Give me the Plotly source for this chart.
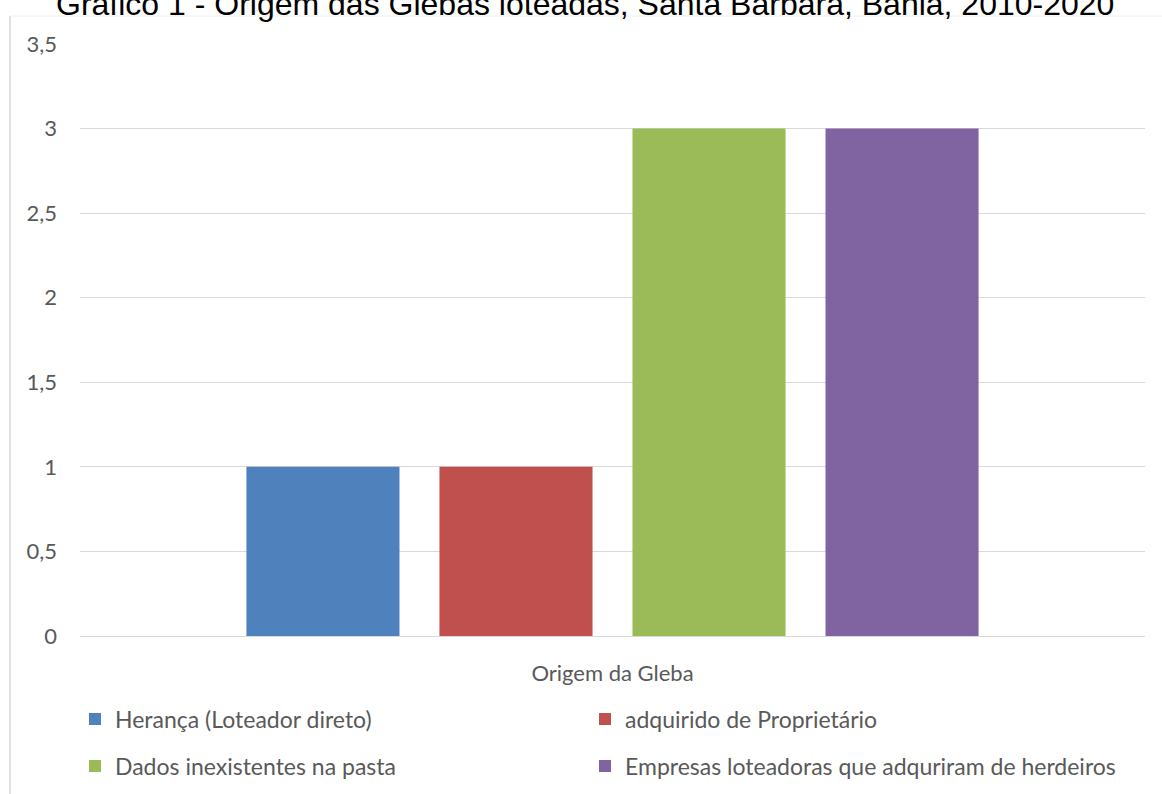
import plotly.graph_objects as go

categories = ["Origem da Gleba"]
series_names = [
    "Herança (Loteador direto)",
    "adquirido de Proprietário",
    "Dados inexistentes na pasta",
    "Empresas loteadoras que adquriram de herdeiros",
]
series_values = [1, 1, 3, 3]
colors = ["#4F81BD", "#C0504D", "#9BBB59", "#8064A2"]
legend_ids = ["legend", "legend2", "legend3", "legend4"]
tick_vals = [0, 0.5, 1, 1.5, 2, 2.5, 3, 3.5]
tick_text = ["0", "0,5", "1", "1,5", "2", "2,5", "3", "3,5"]
title_text = "Gráfico 1 - Origem das Glebas loteadas, Santa Bárbara, Bahia, 2010-2020"

W, H = 1162, 794
ML, MR, MT, MB = 80, 17, 44, 158
pw, ph = W - ML - MR, H - MT - MB

fig = go.Figure()
for name, v, c, lg in zip(series_names, series_values, colors, legend_ids):
    fig.add_trace(go.Bar(x=categories, y=[v], name=name, legend=lg,
                         marker=dict(color=c, line=dict(width=0))))

font = "Lato, Open Sans, sans-serif"
txt = "#595959"
FS = 22
LFS = 23

# legend anchor positions (pixels) for each entry: (left x, row centre y)
legend_pos = [(75, 719), (585, 719), (75, 766), (585, 766)]


def legend_cfg(px, py):
    return dict(
        orientation="h", x=(px - ML) / pw, xanchor="left",
        y=-(py - MT - ph) / ph, yanchor="middle", yref="paper",
        itemwidth=30,
        font=dict(family=font, size=LFS, color=txt), bgcolor="rgba(0,0,0,0)",
    )


legends = {lid: legend_cfg(px, py) for lid, (px, py) in zip(legend_ids, legend_pos)}

fig.update_layout(
    width=W, height=H,
    margin=dict(l=ML, r=MR, t=MT, b=MB, autoexpand=False),
    paper_bgcolor="white", plot_bgcolor="white",
    barmode="group", bargap=0.275, bargroupgap=0.207,
    separators=",.",
    font=dict(family=font, size=FS, color=txt),
    showlegend=True,
    annotations=[dict(
        text=title_text, xref="paper", yref="paper",
        x=(585 - ML) / pw, y=1 + (MT - 4) / ph, xanchor="center", yanchor="middle",
        showarrow=False, font=dict(family="Liberation Sans, Arial, sans-serif", size=32, color="#000000"),
    )],
    shapes=[
        dict(type="line", xref="paper", yref="paper",
             x0=(10 - ML) / pw, x1=(10 - ML) / pw, y0=1 + (MT - 16) / ph, y1=-(MB + 5) / ph,
             line=dict(color="#d9d9d9", width=1.5)),
        dict(type="line", xref="paper", yref="paper",
             x0=(10 - ML) / pw, x1=(1162 - ML) / pw, y0=1 + (MT - 16) / ph, y1=1 + (MT - 16) / ph,
             line=dict(color="#f0f0f0", width=1)),
    ],
    **legends,
)
fig.update_xaxes(showgrid=False, showline=True, linecolor="#d9d9d9", linewidth=1,
                 ticks="", ticklabelstandoff=18, tickfont=dict(size=FS, color=txt))
fig.update_yaxes(range=[0, 3.5], tickvals=tick_vals, ticktext=tick_text, showgrid=True,
                 gridcolor="#d9d9d9", gridwidth=1, zeroline=False, showline=False,
                 ticks="", ticklabelstandoff=22, tickfont=dict(size=FS, color=txt))

fig.write_html("out.html")
